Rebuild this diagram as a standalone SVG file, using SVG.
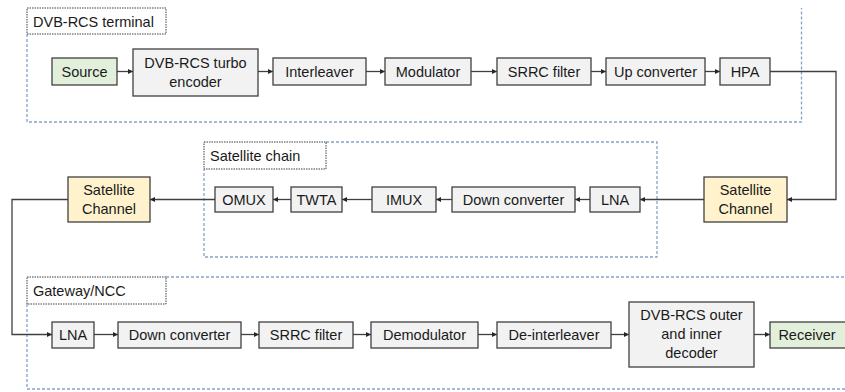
<svg xmlns="http://www.w3.org/2000/svg" width="845" height="392" viewBox="0 0 845 392">
<style>
.bx{fill:#f2f2f2;stroke:#404040;stroke-width:1.3}
.src{fill:#e2efda;stroke:#404040;stroke-width:1.3}
.sat{fill:#fff2cc;stroke:#404040;stroke-width:1.3}
.grp{fill:none;stroke:#86a4c8;stroke-width:1.3;stroke-dasharray:3 2}
.lbl{fill:#fff;stroke:#404040;stroke-width:1;stroke-dasharray:1.5 1}
text{font-family:"Liberation Sans",Arial,sans-serif;font-size:14.5px;fill:#1a1a1a;text-anchor:middle}
.gt{text-anchor:start}
.cn{fill:none;stroke:#404040;stroke-width:1.3}
</style>
<defs>
<marker id="ah" markerWidth="6" markerHeight="6" refX="5" refY="3" orient="auto" markerUnits="userSpaceOnUse">
<path d="M0,0.5 L5,3 L0,5.5 Z" fill="#262626"/>
</marker>
</defs>
<g id="grp-terminal">
<path class="grp" d="M27,34 V122 H801.5 V8"/>
<rect class="lbl" x="27" y="8" width="139" height="26"/>
<text class="gt" x="33" y="26.5">DVB-RCS terminal</text>
</g>
<g id="grp-satchain">
<path class="grp" d="M326,142 H657 V257 H204 V169"/>
<rect class="lbl" x="204" y="142" width="122" height="27"/>
<text class="gt" x="210" y="160.5">Satellite chain</text>
</g>
<g id="grp-gateway">
<path class="grp" d="M166,277 H845 M27,304 V389 H845"/>
<rect class="lbl" x="27" y="277" width="139" height="27"/>
<text class="gt" x="33" y="295.5">Gateway/NCC</text>
</g>
<g id="connectors">
<path class="cn" marker-end="url(#ah)" d="M117,71.5 H133"/>
<path class="cn" marker-end="url(#ah)" d="M258,71.5 H273"/>
<path class="cn" marker-end="url(#ah)" d="M366,71.5 H385"/>
<path class="cn" marker-end="url(#ah)" d="M471,71.5 H497"/>
<path class="cn" marker-end="url(#ah)" d="M591,71.5 H606"/>
<path class="cn" marker-end="url(#ah)" d="M705,71.5 H720"/>
<path class="cn" marker-end="url(#ah)" d="M770,71.5 H836 V199.5 H787"/>
<path class="cn" marker-end="url(#ah)" d="M704,199.5 H640"/>
<path class="cn" marker-end="url(#ah)" d="M590,199.5 H575"/>
<path class="cn" marker-end="url(#ah)" d="M452,199.5 H436"/>
<path class="cn" marker-end="url(#ah)" d="M372,199.5 H342"/>
<path class="cn" marker-end="url(#ah)" d="M291,199.5 H273"/>
<path class="cn" marker-end="url(#ah)" d="M215,199.5 H150"/>
<path class="cn" marker-end="url(#ah)" d="M68,199.5 H12 V334.5 H52"/>
<path class="cn" marker-end="url(#ah)" d="M94,334.5 H118"/>
<path class="cn" marker-end="url(#ah)" d="M241,334.5 H259"/>
<path class="cn" marker-end="url(#ah)" d="M353,334.5 H371"/>
<path class="cn" marker-end="url(#ah)" d="M478,334.5 H497"/>
<path class="cn" marker-end="url(#ah)" d="M611,334.5 H629"/>
<path class="cn" marker-end="url(#ah)" d="M754,334.5 H770"/>
</g>
<g id="source"><rect class="src" x="52" y="58" width="65" height="27"/><text x="84.5" y="76.5">Source</text></g>
<g id="turbo-encoder"><rect class="bx" x="133" y="49" width="125" height="47"/><text x="195.5" y="68">DVB-RCS turbo</text><text x="195.5" y="87">encoder</text></g>
<g id="interleaver"><rect class="bx" x="273" y="58" width="93" height="27"/><text x="319.5" y="76.5">Interleaver</text></g>
<g id="modulator"><rect class="bx" x="385" y="58" width="86" height="27"/><text x="428" y="76.5">Modulator</text></g>
<g id="srrc-tx"><rect class="bx" x="497" y="58" width="94" height="27"/><text x="544" y="76.5">SRRC filter</text></g>
<g id="upconverter"><rect class="bx" x="606" y="58" width="99" height="27"/><text x="655.5" y="76.5">Up converter</text></g>
<g id="hpa"><rect class="bx" x="720" y="58" width="50" height="27"/><text x="745" y="76.5">HPA</text></g>
<g id="satchan-right"><rect class="sat" x="704" y="177" width="83" height="45"/><text x="745.5" y="195">Satellite</text><text x="745.5" y="214">Channel</text></g>
<g id="lna-sat"><rect class="bx" x="590" y="187" width="50" height="25"/><text x="615" y="204.5">LNA</text></g>
<g id="downconv-sat"><rect class="bx" x="452" y="187" width="123" height="25"/><text x="513.5" y="204.5">Down converter</text></g>
<g id="imux"><rect class="bx" x="372" y="187" width="64" height="25"/><text x="404" y="204.5">IMUX</text></g>
<g id="twta"><rect class="bx" x="291" y="187" width="51" height="25"/><text x="316.5" y="204.5">TWTA</text></g>
<g id="omux"><rect class="bx" x="215" y="187" width="58" height="25"/><text x="244" y="204.5">OMUX</text></g>
<g id="satchan-left"><rect class="sat" x="68" y="177" width="82" height="45"/><text x="109" y="195">Satellite</text><text x="109" y="214">Channel</text></g>
<g id="lna-gw"><rect class="bx" x="52" y="322" width="42" height="26"/><text x="73" y="340">LNA</text></g>
<g id="downconv-gw"><rect class="bx" x="118" y="322" width="123" height="26"/><text x="179.5" y="340">Down converter</text></g>
<g id="srrc-rx"><rect class="bx" x="259" y="322" width="94" height="26"/><text x="306" y="340">SRRC filter</text></g>
<g id="demodulator"><rect class="bx" x="371" y="322" width="107" height="26"/><text x="424.5" y="340">Demodulator</text></g>
<g id="deinterleaver"><rect class="bx" x="497" y="322" width="114" height="26"/><text x="554" y="340">De-interleaver</text></g>
<g id="decoder"><rect class="bx" x="629" y="302" width="125" height="65"/><text x="691.5" y="320">DVB-RCS outer</text><text x="691.5" y="339">and inner</text><text x="691.5" y="358">decoder</text></g>
<g id="receiver"><rect class="src" x="770" y="322" width="80" height="26"/><text x="807" y="340">Receiver</text></g>
</svg>
